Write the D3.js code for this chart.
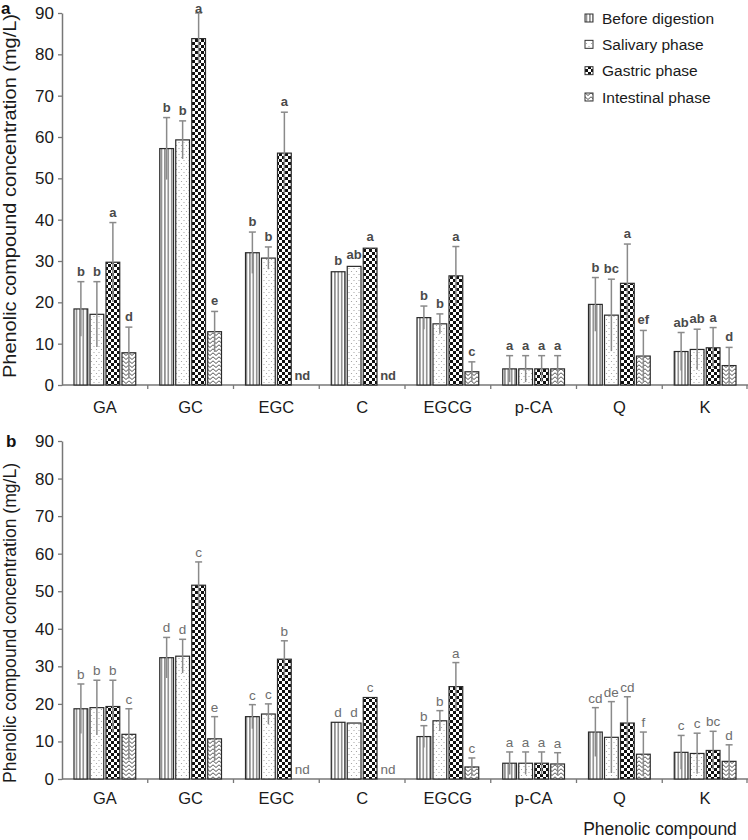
<!DOCTYPE html>
<html>
<head>
<meta charset="utf-8">
<script src="https://cdn.jsdelivr.net/npm/d3@7"></script>
<style>
  html, body { margin: 0; padding: 0; background: #fff; }
  svg { display: block; font-family: "Liberation Sans", Arial, sans-serif; }
</style>
</head>
<body>
<svg id="chart" width="748" height="840"></svg>
<script>
// ---------- data ----------
const categories = ["GA", "GC", "EGC", "C", "EGCG", "p-CA", "Q", "K"];
const phases = ["Before digestion", "Salivary phase", "Gastric phase", "Intestinal phase"];
const yTickValues = [0, 10, 20, 30, 40, 50, 60, 70, 80, 90];

// Panel a
const beforeA     = [18.4, 57.2, 32.0, 27.4, 16.3, 3.9, 19.5, 8.1];
const salivaryA   = [17.1, 59.3, 30.7, 28.7, 14.8, 3.9, 16.9, 8.6];
const gastricA    = [29.7, 83.8, 56.1, 33.1, 26.4, 3.9, 24.6, 9.0];
const intestinalA = [7.8, 12.9, 0, 0, 3.2, 3.9, 7.0, 4.7];
const beforeSdA     = [6.6, 7.5, 5.0, 0.3, 2.8, 3.2, 6.5, 4.6];
const salivarySdA   = [7.9, 4.6, 2.7, 0.3, 2.4, 3.2, 8.7, 4.9];
const gastricSdA    = [9.6, 6.2, 9.9, 0.3, 7.1, 3.2, 9.5, 4.9];
const intestinalSdA = [6.2, 4.9, 0, 0, 2.4, 3.2, 6.2, 4.4];
const beforeLetA     = ["b", "b", "b", "b", "b", "a", "b", "ab"];
const salivaryLetA   = ["b", "b", "b", "ab", "b", "a", "bc", "ab"];
const gastricLetA    = ["a", "a", "a", "a", "a", "a", "a", "a"];
const intestinalLetA = ["d", "e", "nd", "nd", "c", "a", "ef", "d"];

// Panel b
const beforeB     = [18.7, 32.3, 16.6, 15.1, 11.3, 4.2, 12.5, 7.1];
const salivaryB   = [19.0, 32.7, 17.3, 14.9, 15.5, 4.2, 11.1, 6.8];
const gastricB    = [19.3, 51.6, 31.9, 21.7, 24.6, 4.2, 14.9, 7.6];
const intestinalB = [11.9, 10.7, 0, 0, 3.2, 4.0, 6.6, 4.7];
const beforeSdB     = [6.6, 5.4, 3.2, 0.2, 2.9, 3.0, 6.5, 4.5];
const salivarySdB   = [7.3, 4.5, 2.7, 0.2, 2.7, 3.0, 9.5, 5.4];
const gastricSdB    = [7.0, 6.2, 4.9, 0.2, 6.4, 3.0, 7.0, 5.1];
const intestinalSdB = [6.8, 5.9, 0, 0, 2.4, 3.0, 5.9, 4.4];
const beforeLetB     = ["b", "d", "c", "d", "b", "a", "cd", "c"];
const salivaryLetB   = ["b", "d", "c", "d", "b", "a", "de", "c"];
const gastricLetB    = ["b", "c", "b", "c", "a", "a", "cd", "bc"];
const intestinalLetB = ["c", "e", "nd", "nd", "c", "a", "f", "d"];

// ---------- setup ----------
const svg = d3.select("#chart");
const defs = svg.append("defs");

// patterns
const pV = defs.append("pattern").attr("id", "pat0").attr("patternUnits", "userSpaceOnUse")
  .attr("width", 3.4).attr("height", 4);
pV.append("rect").attr("width", 3.4).attr("height", 4).attr("fill", "#fff");
pV.append("line").attr("x1", 1.7).attr("x2", 1.7).attr("y1", 0).attr("y2", 4)
  .attr("stroke", "#333").attr("stroke-width", 0.9);

const pD = defs.append("pattern").attr("id", "pat1").attr("patternUnits", "userSpaceOnUse")
  .attr("width", 5).attr("height", 6);
pD.append("rect").attr("width", 5).attr("height", 6).attr("fill", "#fff");
pD.append("circle").attr("cx", 1.5).attr("cy", 1.5).attr("r", 0.6).attr("fill", "#999");
pD.append("circle").attr("cx", 4).attr("cy", 4.5).attr("r", 0.6).attr("fill", "#999");

const pC = defs.append("pattern").attr("id", "pat2").attr("patternUnits", "userSpaceOnUse")
  .attr("width", 6).attr("height", 6);
pC.append("rect").attr("width", 6).attr("height", 6).attr("fill", "#fff");
pC.append("rect").attr("x", 0).attr("y", 0).attr("width", 3).attr("height", 3).attr("fill", "#111");
pC.append("rect").attr("x", 3).attr("y", 3).attr("width", 3).attr("height", 3).attr("fill", "#111");

const pZ = defs.append("pattern").attr("id", "pat3").attr("patternUnits", "userSpaceOnUse")
  .attr("width", 6).attr("height", 4);
pZ.append("rect").attr("width", 6).attr("height", 4).attr("fill", "#fff");
pZ.append("path").attr("d", "M0,3.5 L3,0.8 L6,3.5").attr("fill", "none")
  .attr("stroke", "#555").attr("stroke-width", 1);

const fills = ["url(#pat0)", "url(#pat1)", "url(#pat2)", "url(#pat3)"];

const xLeft = 62, xRight = 748;
const x0 = d3.scaleBand().domain(categories).range([xLeft, xRight])
  .paddingInner(0.28).paddingOuter(0.14);
const x1 = d3.scaleBand().domain(phases).range([0, x0.bandwidth()]).paddingInner(0.14);

function drawPanel(cfg) {
  const y = d3.scaleLinear().domain([0, 90]).range([cfg.y0, cfg.yTop]);
  const g = svg.append("g");

  const series = [
    { name: phases[0], vals: cfg.vals[0], sds: cfg.sds[0], lets: cfg.lets[0] },
    { name: phases[1], vals: cfg.vals[1], sds: cfg.sds[1], lets: cfg.lets[1] },
    { name: phases[2], vals: cfg.vals[2], sds: cfg.sds[2], lets: cfg.lets[2] },
    { name: phases[3], vals: cfg.vals[3], sds: cfg.sds[3], lets: cfg.lets[3] }
  ];
  const items = [];
  series.forEach((s, si) => {
    categories.forEach((c, ci) => {
      items.push({ cat: c, phase: s.name, si: si, v: s.vals[ci], sd: s.sds[ci], lab: s.lets[ci] });
    });
  });

  // axes
  const yAxis = d3.axisLeft(y).tickValues(yTickValues).tickSize(4).tickSizeOuter(0).tickPadding(4);
  const ya = g.append("g").attr("transform", `translate(${xLeft},0)`).call(yAxis);
  ya.select(".domain").attr("stroke", "#777").attr("stroke-width", 1.5);
  ya.selectAll(".tick line").attr("stroke", "#777").attr("stroke-width", 1.3);
  ya.selectAll(".tick text").attr("font-size", 17).attr("fill", "#1a1a1a")
    .attr("font-family", "Liberation Sans, Arial, sans-serif");

  // x axis baseline
  g.append("line").attr("x1", xLeft).attr("x2", xRight).attr("y1", cfg.y0).attr("y2", cfg.y0)
    .attr("stroke", "#777").attr("stroke-width", 1.5);
  // boundary ticks between categories
  const bounds = categories.map((c, i) => xLeft + i * x0.step()).slice(1).concat([xRight - 1]);
  g.selectAll(".xt").data(bounds).enter().append("line")
    .attr("x1", d => d).attr("x2", d => d).attr("y1", cfg.y0).attr("y2", cfg.y0 + 4)
    .attr("stroke", "#777").attr("stroke-width", 1.3);
  // category labels
  g.selectAll(".xl").data(categories).enter().append("text")
    .attr("x", d => x0(d) + x0.bandwidth() / 2).attr("y", cfg.catY)
    .attr("text-anchor", "middle").attr("font-size", 16.5).attr("fill", "#1a1a1a").text(d => d);

  // bars
  const bars = items.filter(d => d.lab !== "nd");
  g.selectAll(".bar").data(bars).enter().append("rect")
    .attr("x", d => x0(d.cat) + x1(d.phase))
    .attr("y", d => y(d.v))
    .attr("width", x1.bandwidth())
    .attr("height", d => y(0) - y(d.v))
    .attr("fill", d => fills[d.si])
    .attr("stroke", "#2a2a2a").attr("stroke-width", 1.2);

  // error bars
  const eb = g.selectAll(".eb").data(bars.filter(d => d.sd > 0.5)).enter().append("g");
  eb.append("line")
    .attr("x1", d => x0(d.cat) + x1(d.phase) + x1.bandwidth() / 2)
    .attr("x2", d => x0(d.cat) + x1(d.phase) + x1.bandwidth() / 2)
    .attr("y1", d => y(Math.max(0, d.v - d.sd))).attr("y2", d => y(d.v + d.sd))
    .attr("stroke", "#8a8a8a").attr("stroke-width", 1.5);
  eb.append("line")
    .attr("x1", d => x0(d.cat) + x1(d.phase) + x1.bandwidth() / 2 - 3.5)
    .attr("x2", d => x0(d.cat) + x1(d.phase) + x1.bandwidth() / 2 + 3.5)
    .attr("y1", d => y(d.v + d.sd)).attr("y2", d => y(d.v + d.sd))
    .attr("stroke", "#8a8a8a").attr("stroke-width", 1.5);

  // letters
  g.selectAll(".lt").data(items).enter().append("text")
    .attr("x", d => x0(d.cat) + x1(d.phase) + x1.bandwidth() / 2 + (d.lab === "nd" ? 2 : 0))
    .attr("y", d => d.lab === "nd" ? cfg.y0 - 5 : Math.max(cfg.minLetY, y(d.v + d.sd) - cfg.letGap))
    .attr("text-anchor", "middle")
    .attr("font-size", cfg.letSize)
    .attr("font-weight", cfg.letWeight)
    .attr("fill", cfg.letColor)
    .text(d => d.lab);

  // y title
  const cy = (cfg.y0 + cfg.yTop) / 2 + cfg.titleShift;
  g.append("text")
    .attr("transform", `translate(16,${cy}) rotate(-90)`)
    .attr("text-anchor", "middle")
    .attr("font-size", 17.5).attr("fill", "#1a1a1a")
    .attr("textLength", cfg.titleLen).attr("lengthAdjust", "spacingAndGlyphs")
    .text("Phenolic compound concentration (mg/L)");

  // panel label
  g.append("text").attr("x", cfg.panelX).attr("y", cfg.panelY)
    .attr("font-size", 17).attr("font-weight", "bold").attr("fill", "#111").text(cfg.panel);
}

drawPanel({
  y0: 385, yTop: 13, catY: 413,
  vals: [beforeA, salivaryA, gastricA, intestinalA],
  sds: [beforeSdA, salivarySdA, gastricSdA, intestinalSdA],
  lets: [beforeLetA, salivaryLetA, gastricLetA, intestinalLetA],
  letGap: 6, minLetY: 13, letSize: 13, letWeight: "bold", letColor: "#4a4a4a",
  titleLen: 364, titleShift: -3, panel: "a", panelX: 1, panelY: 14
});

drawPanel({
  y0: 779, yTop: 441, catY: 804,
  vals: [beforeB, salivaryB, gastricB, intestinalB],
  sds: [beforeSdB, salivarySdB, gastricSdB, intestinalSdB],
  lets: [beforeLetB, salivaryLetB, gastricLetB, intestinalLetB],
  letGap: 5, minLetY: 0, letSize: 13.5, letWeight: "normal", letColor: "#6e6e6e",
  titleLen: 320, titleShift: 13, panel: "b", panelX: 6, panelY: 447
});

// x title
svg.append("text").attr("x", 660).attr("y", 835).attr("text-anchor", "middle")
  .attr("font-size", 17.5).attr("fill", "#1a1a1a").text("Phenolic compound");

// legend
const legend = svg.append("g");
const legY = d3.scalePoint().domain(phases).range([18, 97]);
legend.selectAll("rect").data(phases).enter().append("rect")
  .attr("x", 585).attr("y", d => legY(d) - 4).attr("width", 8).attr("height", 8)
  .attr("fill", (d, i) => fills[i]).attr("stroke", "#333").attr("stroke-width", 1);
legend.selectAll("text").data(phases).enter().append("text")
  .attr("x", 602).attr("y", d => legY(d) + 5.5)
  .attr("font-size", 15.5).attr("fill", "#1a1a1a").text(d => d);
</script>
</body>
</html>
